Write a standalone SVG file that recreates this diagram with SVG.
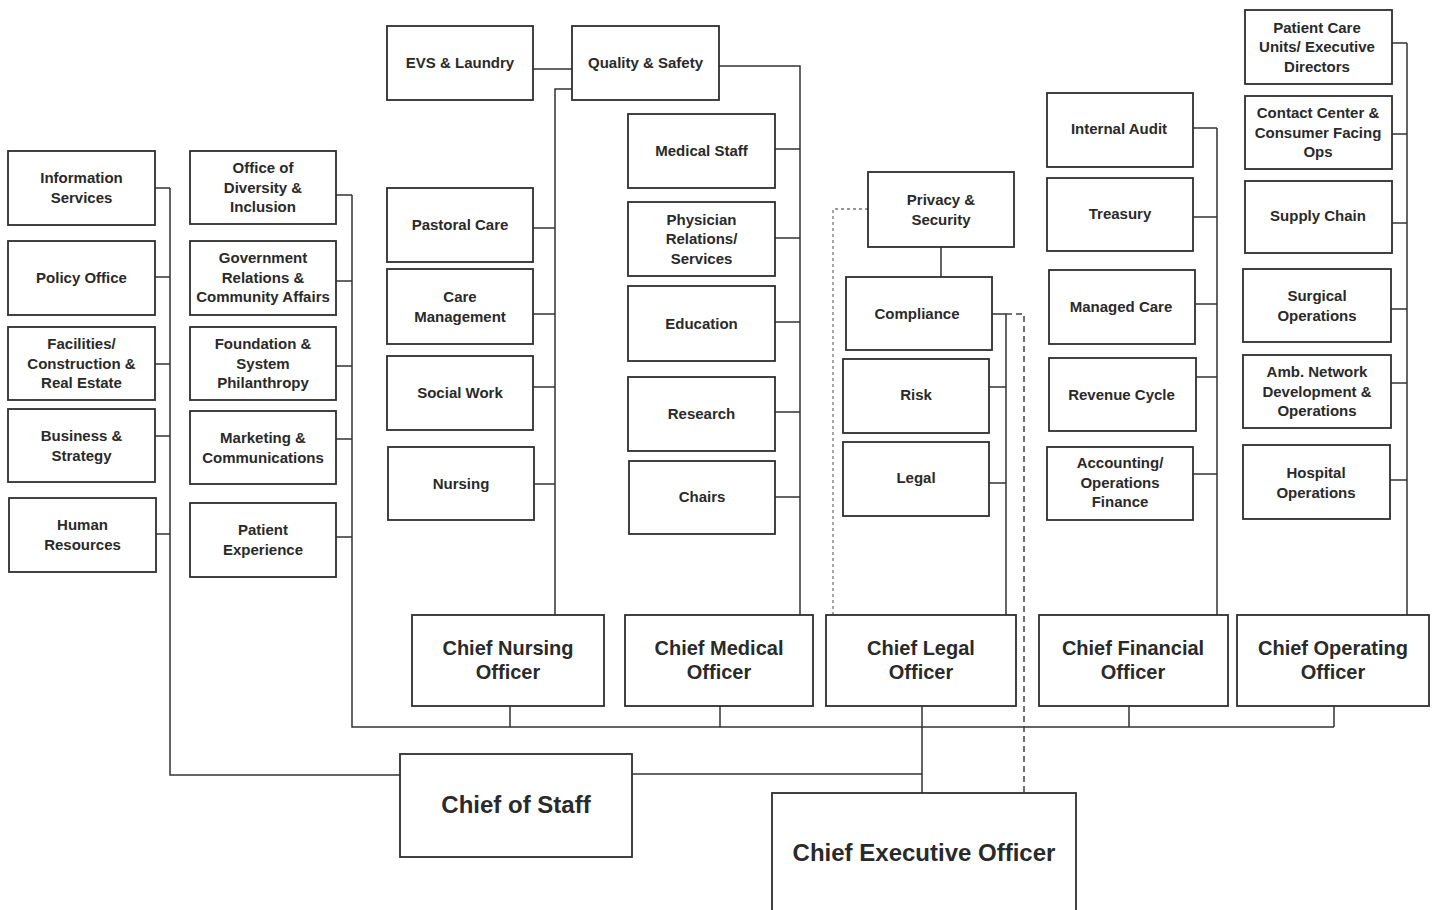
<svg xmlns="http://www.w3.org/2000/svg" width="1435" height="910" viewBox="0 0 1435 910">
<style>
.b{fill:#fff;stroke:#2e2e2e;stroke-width:1.8}
.t{font-family:"Liberation Sans",Arial,sans-serif;font-weight:bold;font-size:15px;fill:#2a2a2a;text-anchor:middle}
.c{font-size:20px}
.x{font-size:24px}
.l{fill:none;stroke:#333;stroke-width:1.5}
.d{fill:none;stroke:#444;stroke-width:1.5;stroke-dasharray:6 4}
.o{fill:none;stroke:#777;stroke-width:1.3;stroke-dasharray:3 3}
</style>
<rect width="1435" height="910" fill="#fff"/>
<g id="connectors">
<path class="l" d="M155 188H170M155 277H170M155 364H170M155 436H170M155 534H170M170 188V775H400"/>
<path class="l" d="M632 774H922"/>
<path class="l" d="M336 195H352M336 281H352M336 366H352M336 439H352M336 537H352M352 195V727H1334"/>
<path class="l" d="M510 706V727M720 706V727M922 706V793M1129 706V727M1334 706V727"/>
<path class="l" d="M533 69H572M572 89H555V615M533 228H555M533 314H555M533 387H555M533 484H555"/>
<path class="l" d="M719 66H800V615M775 149H800M775 238H800M775 322H800M775 412H800M775 497H800"/>
<path class="l" d="M941 247V277M992 314H1006V615M989 387H1006M989 483H1006"/>
<path class="d" d="M1006 314H1024V793"/>
<path class="o" d="M868 209H833V615"/>
<path class="l" d="M1193 128H1217M1193 217H1217M1195 304H1217M1196 377H1217M1193 474H1217M1217 128V615"/>
<path class="l" d="M1392 43H1407M1392 134H1407M1392 223H1407M1391 309H1407M1391 383H1407M1390 480H1407M1407 43V615"/>
</g>
<g id="information-services"><rect class="b" x="8" y="151" width="147" height="74"/><text class="t"><tspan x="81.5" y="183">Information</tspan><tspan x="81.5" y="202.5">Services</tspan></text></g>
<g id="policy-office"><rect class="b" x="8" y="241" width="147" height="74"/><text class="t" x="81.5" y="283">Policy Office</text></g>
<g id="facilities"><rect class="b" x="8" y="327" width="147" height="73"/><text class="t"><tspan x="81.5" y="349">Facilities/</tspan><tspan x="81.5" y="368.5">Construction &amp;</tspan><tspan x="81.5" y="388">Real Estate</tspan></text></g>
<g id="business-strategy"><rect class="b" x="8" y="409" width="147" height="73"/><text class="t"><tspan x="81.5" y="441">Business &amp;</tspan><tspan x="81.5" y="460.5">Strategy</tspan></text></g>
<g id="human-resources"><rect class="b" x="9" y="498" width="147" height="74"/><text class="t"><tspan x="82.5" y="530">Human</tspan><tspan x="82.5" y="549.5">Resources</tspan></text></g>
<g id="diversity"><rect class="b" x="190" y="151" width="146" height="73"/><text class="t"><tspan x="263" y="173">Office of</tspan><tspan x="263" y="192.5">Diversity &amp;</tspan><tspan x="263" y="212">Inclusion</tspan></text></g>
<g id="government-relations"><rect class="b" x="190" y="241" width="146" height="74"/><text class="t"><tspan x="263" y="263">Government</tspan><tspan x="263" y="282.5">Relations &amp;</tspan><tspan x="263" y="302">Community Affairs</tspan></text></g>
<g id="foundation"><rect class="b" x="190" y="327" width="146" height="73"/><text class="t"><tspan x="263" y="349">Foundation &amp;</tspan><tspan x="263" y="368.5">System</tspan><tspan x="263" y="388">Philanthropy</tspan></text></g>
<g id="marketing"><rect class="b" x="190" y="411" width="146" height="73"/><text class="t"><tspan x="263" y="443">Marketing &amp;</tspan><tspan x="263" y="462.5">Communications</tspan></text></g>
<g id="patient-experience"><rect class="b" x="190" y="503" width="146" height="74"/><text class="t"><tspan x="263" y="535">Patient</tspan><tspan x="263" y="554.5">Experience</tspan></text></g>
<g id="evs-laundry"><rect class="b" x="387" y="26" width="146" height="74"/><text class="t" x="460" y="68">EVS &amp; Laundry</text></g>
<g id="quality-safety"><rect class="b" x="572" y="26" width="147" height="74"/><text class="t" x="645.5" y="68">Quality &amp; Safety</text></g>
<g id="pastoral-care"><rect class="b" x="387" y="188" width="146" height="74"/><text class="t" x="460" y="230">Pastoral Care</text></g>
<g id="care-management"><rect class="b" x="387" y="269" width="146" height="75"/><text class="t"><tspan x="460" y="302">Care</tspan><tspan x="460" y="321.5">Management</tspan></text></g>
<g id="social-work"><rect class="b" x="387" y="356" width="146" height="74"/><text class="t" x="460" y="398">Social Work</text></g>
<g id="nursing"><rect class="b" x="388" y="447" width="146" height="73"/><text class="t" x="461" y="489">Nursing</text></g>
<g id="medical-staff"><rect class="b" x="628" y="114" width="147" height="74"/><text class="t" x="701.5" y="156">Medical  Staff</text></g>
<g id="physician-relations"><rect class="b" x="628" y="202" width="147" height="74"/><text class="t"><tspan x="701.5" y="224.5">Physician</tspan><tspan x="701.5" y="244">Relations/</tspan><tspan x="701.5" y="263.5">Services</tspan></text></g>
<g id="education"><rect class="b" x="628" y="286" width="147" height="75"/><text class="t" x="701.5" y="329">Education</text></g>
<g id="research"><rect class="b" x="628" y="377" width="147" height="74"/><text class="t" x="701.5" y="419">Research</text></g>
<g id="chairs"><rect class="b" x="629" y="461" width="146" height="73"/><text class="t" x="702" y="502">Chairs</text></g>
<g id="privacy-security"><rect class="b" x="868" y="172" width="146" height="75"/><text class="t"><tspan x="941" y="205">Privacy &amp;</tspan><tspan x="941" y="224.5">Security</tspan></text></g>
<g id="compliance"><rect class="b" x="846" y="277" width="146" height="73"/><text class="t" x="917" y="318.5">Compliance</text></g>
<g id="risk"><rect class="b" x="843" y="359" width="146" height="74"/><text class="t" x="916" y="400">Risk</text></g>
<g id="legal"><rect class="b" x="843" y="442" width="146" height="74"/><text class="t" x="916" y="483">Legal</text></g>
<g id="internal-audit"><rect class="b" x="1047" y="93" width="146" height="74"/><text class="t" x="1119" y="134">Internal Audit</text></g>
<g id="treasury"><rect class="b" x="1047" y="178" width="146" height="73"/><text class="t" x="1120" y="219">Treasury</text></g>
<g id="managed-care"><rect class="b" x="1049" y="270" width="146" height="74"/><text class="t" x="1121" y="312">Managed Care</text></g>
<g id="revenue-cycle"><rect class="b" x="1049" y="358" width="147" height="73"/><text class="t" x="1121.5" y="400">Revenue Cycle</text></g>
<g id="accounting"><rect class="b" x="1047" y="447" width="146" height="73"/><text class="t"><tspan x="1120" y="468">Accounting/</tspan><tspan x="1120" y="487.5">Operations</tspan><tspan x="1120" y="507">Finance</tspan></text></g>
<g id="patient-care-units"><rect class="b" x="1245" y="10" width="147" height="74"/><text class="t"><tspan x="1317" y="32.5">Patient Care</tspan><tspan x="1317" y="52">Units/ Executive</tspan><tspan x="1317" y="71.5">Directors</tspan></text></g>
<g id="contact-center"><rect class="b" x="1245" y="96" width="147" height="73"/><text class="t"><tspan x="1318" y="118">Contact Center &amp;</tspan><tspan x="1318" y="137.5">Consumer Facing</tspan><tspan x="1318" y="157">Ops</tspan></text></g>
<g id="supply-chain"><rect class="b" x="1245" y="181" width="147" height="72"/><text class="t" x="1318" y="221">Supply Chain</text></g>
<g id="surgical-operations"><rect class="b" x="1243" y="269" width="148" height="73"/><text class="t"><tspan x="1317" y="301">Surgical</tspan><tspan x="1317" y="320.5">Operations</tspan></text></g>
<g id="amb-network"><rect class="b" x="1243" y="355" width="148" height="73"/><text class="t"><tspan x="1317" y="377">Amb. Network</tspan><tspan x="1317" y="396.5">Development &amp;</tspan><tspan x="1317" y="416">Operations</tspan></text></g>
<g id="hospital-operations"><rect class="b" x="1243" y="445" width="147" height="74"/><text class="t"><tspan x="1316" y="478">Hospital</tspan><tspan x="1316" y="497.5">Operations</tspan></text></g>
<g id="cno"><rect class="b" x="412" y="615" width="192" height="91"/><text class="t c"><tspan x="508" y="655">Chief Nursing</tspan><tspan x="508" y="679">Officer</tspan></text></g>
<g id="cmo"><rect class="b" x="625" y="615" width="188" height="91"/><text class="t c"><tspan x="719" y="655">Chief Medical</tspan><tspan x="719" y="679">Officer</tspan></text></g>
<g id="clo"><rect class="b" x="826" y="615" width="190" height="91"/><text class="t c"><tspan x="921" y="655">Chief Legal</tspan><tspan x="921" y="679">Officer</tspan></text></g>
<g id="cfo"><rect class="b" x="1039" y="615" width="189" height="91"/><text class="t c"><tspan x="1133" y="655">Chief Financial</tspan><tspan x="1133" y="679">Officer</tspan></text></g>
<g id="coo"><rect class="b" x="1237" y="615" width="192" height="91"/><text class="t c"><tspan x="1333" y="655">Chief Operating</tspan><tspan x="1333" y="679">Officer</tspan></text></g>
<g id="chief-of-staff"><rect class="b" x="400" y="754" width="232" height="103"/><text class="t x" x="516" y="813">Chief of Staff</text></g>
<g id="ceo"><rect class="b" x="772" y="793" width="304" height="125"/><text class="t x" x="924" y="861">Chief Executive Officer</text></g>
</svg>
